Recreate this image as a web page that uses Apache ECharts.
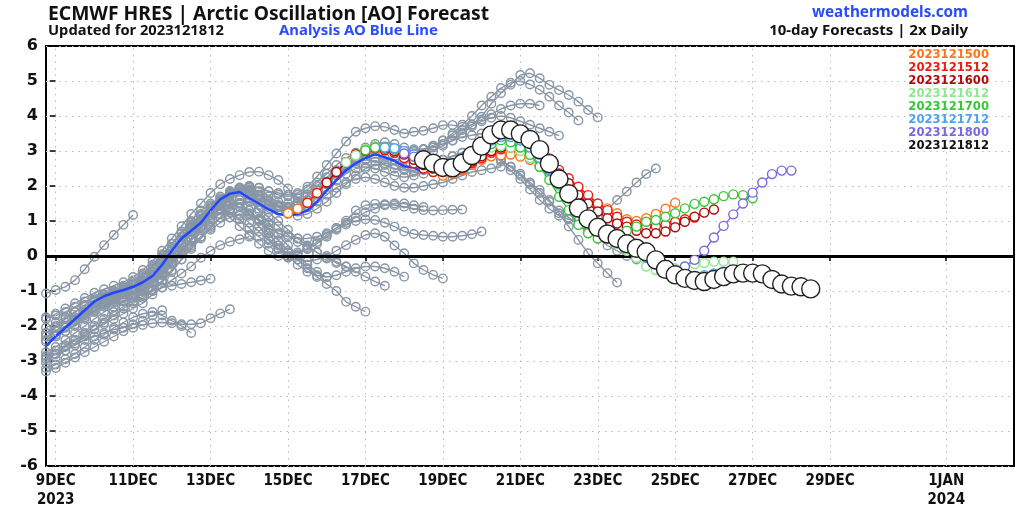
<!DOCTYPE html>
<html><head><meta charset="utf-8">
<script src="https://cdn.jsdelivr.net/npm/echarts@6/dist/echarts.min.js"></script>
<style>html,body{margin:0;padding:0;background:#fff}#c{width:1024px;height:512px}</style>
</head><body><div id="c"></div>
<script>
// x = days since 2023-12-09 00Z ; all runs are 6-hourly (0.25 day steps)
const tickDays = [0, 2, 4, 6, 8, 10, 12, 14, 16, 18, 20, 23];
const tickLabels = ['9DEC\n2023', '11DEC', '13DEC', '15DEC', '17DEC', '19DEC', '21DEC', '23DEC', '25DEC', '27DEC', '29DEC', '1JAN\n2024'];

// Analysis (blue line), starts at day -0.25
const analysisStart = -0.25;
const analysis = [-2.57, -2.3, -2.05, -1.8, -1.55, -1.3, -1.15, -1.05, -0.97, -0.88, -0.75, -0.57, -0.25, 0.15, 0.5, 0.72, 0.95, 1.3, 1.62, 1.78, 1.83, 1.65, 1.5, 1.33, 1.2, 1.16, 1.2, 1.3, 1.55, 1.87, 2.17, 2.45, 2.65, 2.8, 2.91, 2.82, 2.72, 2.56, 2.54, 2.37];

// Older forecast runs (grey); start day of first visible point
const grayStarts = [-0.25, -0.25, -0.25, -0.25, -0.25, -0.25, -0.25, -0.25, -0.25, -0.25, -0.25, -0.25, -0.25, -0.25, -0.25, -0.25, 0, 0.5, 1, 1.5, 2, 2.5, 3, 3.5, 4, 4.5, 5, 5.5];
const g1201_00 = [-1.07, -0.97, -0.88, -0.69, -0.38, -0.02, 0.31, 0.6, 0.89, 1.17];
const g1201_12 = [-1.75, -1.7, -1.6, -1.45, -1.3, -1.2, -1.1, -1.0, -0.95, -0.9, -0.85, -0.75];
const g1202_00 = [-2.9, -2.8, -2.7, -2.55, -2.4, -2.3, -2.2, -2.1, -2.05, -1.95, -1.85, -1.7, -1.55];
const g1202_12 = [-3.2, -3.1, -2.95, -2.8, -2.6, -2.4, -2.25, -2.05, -1.9, -1.75, -1.65, -1.6, -1.7, -1.85, -2.0, -2.2];
const g1203_00 = [-2.45, -2.3, -2.15, -2.0, -1.8, -1.6, -1.45, -1.35, -1.3, -1.2, -1.1, -1.0, -0.9, -0.85, -0.8, -0.75, -0.7, -0.65];
const g1203_12 = [-3.3, -3.2, -3.05, -2.9, -2.75, -2.6, -2.45, -2.3, -2.15, -2.05, -1.97, -1.92, -1.9, -1.92, -1.95, -1.95, -1.92, -1.78, -1.64, -1.52];
const g1204_00 = [-2.85, -2.7, -2.55, -2.4, -2.25, -2.1, -1.95, -1.8, -1.65, -1.5, -1.35, -1.1, -0.9, -0.69, -0.5, -0.3, -0.05, 0.15, 0.31, 0.41, 0.48, 0.55];
const g1204_12 = [-2.2, -2.05, -1.9, -1.75, -1.6, -1.45, -1.35, -1.25, -1.15, -1.05, -0.9, -0.7, -0.45, -0.2, 0.05, 0.3, 0.55, 0.75, 0.95, 1.1, 1.2, 1.15, 1.05, 0.9];
const g1205_00 = [-2.05, -1.9, -1.75, -1.6, -1.45, -1.3, -1.2, -1.1, -1.0, -0.9, -0.75, -0.55, -0.3, 0.0, 0.3, 0.6, 0.9, 1.15, 1.35, 1.5, 1.5, 1.22, 0.84, 0.5, 0.22, -0.02];
const g1205_12 = [-1.8, -1.65, -1.5, -1.35, -1.2, -1.05, -0.95, -0.85, -0.75, -0.6, -0.4, -0.15, 0.15, 0.5, 0.85, 1.2, 1.5, 1.8, 2.05, 2.2, 2.31, 2.4, 2.41, 2.31, 2.17, 1.93, 1.65, 1.4];
const g1206_00 = [-2.3, -2.15, -2.0, -1.85, -1.7, -1.55, -1.4, -1.3, -1.2, -1.1, -0.95, -0.75, -0.5, -0.2, 0.15, 0.5, 0.85, 1.2, 1.5, 1.7, 1.75, 1.6, 1.3, 0.95, 0.6, 0.3, 0.0, -0.25, -0.45, -0.6];
const g1206_12 = [-2.95, -2.8, -2.6, -2.4, -2.2, -2.0, -1.8, -1.6, -1.45, -1.3, -1.15, -0.95, -0.7, -0.4, -0.1, 0.2, 0.5, 0.8, 1.1, 1.35, 1.5, 1.55, 1.45, 1.25, 1.0, 0.75, 0.5, 0.3, 0.1, -0.05, -0.2, -0.3];
const g1207_00 = [-3.05, -2.9, -2.7, -2.5, -2.3, -2.1, -1.9, -1.7, -1.5, -1.35, -1.2, -1.0, -0.75, -0.45, -0.1, 0.25, 0.55, 0.85, 1.1, 1.3, 1.4, 1.3, 1.05, 0.75, 0.45, 0.15, -0.1, -0.35, -0.6, -0.8, -1.0, -1.31, -1.45, -1.59];
const g1207_12 = [-2.75, -2.6, -2.4, -2.2, -2.0, -1.8, -1.6, -1.45, -1.3, -1.15, -1.0, -0.8, -0.55, -0.25, 0.1, 0.45, 0.8, 1.1, 1.35, 1.5, 1.6, 1.55, 1.35, 1.1, 0.85, 0.6, 0.4, 0.25, 0.1, -0.07, -0.16, -0.3, -0.45, -0.59, -0.73, -0.85];
const g1208_00 = [-2.4, -2.25, -2.05, -1.85, -1.65, -1.45, -1.3, -1.15, -1.05, -0.95, -0.8, -0.6, -0.35, 0.0, 0.35, 0.7, 1.0, 1.25, 1.45, 1.55, 1.5, 1.3, 1.0, 0.65, 0.3, 0.0, -0.25, -0.45, -0.55, -0.6, -0.55, -0.45, -0.35, -0.3, -0.3, -0.35, -0.45, -0.59];
const g1208_12 = [-2.2, -2.0, -1.8, -1.6, -1.4, -1.25, -1.1, -1.0, -0.9, -0.75, -0.55, -0.3, 0.0, 0.35, 0.7, 1.0, 1.3, 1.5, 1.6, 1.55, 1.4, 1.2, 1.0, 0.8, 0.65, 0.55, 0.5, 0.5, 0.55, 0.65, 0.8, 0.95, 1.1, 1.25, 1.35, 1.45, 1.5, 1.5, 1.45, 1.4];
const g1209_00 = [-2.3, -2.15, -1.95, -1.75, -1.55, -1.4, -1.25, -1.1, -1.0, -0.85, -0.65, -0.4, -0.1, 0.2, 0.5, 0.8, 1.05, 1.2, 1.25, 1.15, 0.95, 0.7, 0.45, 0.2, 0.0, -0.1, -0.15, -0.1, 0.0, 0.15, 0.31, 0.46, 0.6, 0.65, 0.55, 0.3, 0.08, -0.21, -0.4, -0.54, -0.64];
const g1209_12 = [-1.8, -1.65, -1.5, -1.35, -1.2, -1.05, -0.9, -0.7, -0.45, -0.15, 0.2, 0.55, 0.9, 1.2, 1.35, 1.3, 1.1, 0.85, 0.6, 0.35, 0.15, 0.0, -0.05, 0.05, 0.2, 0.4, 0.6, 0.8, 1.01, 1.3, 1.45, 1.49, 1.48, 1.45, 1.41, 1.35, 1.31, 1.3, 1.31, 1.32, 1.33];
const g1210_00 = [-1.3, -1.15, -1.0, -0.85, -0.7, -0.5, -0.25, 0.05, 0.35, 0.65, 0.95, 1.15, 1.3, 1.35, 1.25, 1.05, 0.8, 0.55, 0.35, 0.2, 0.1, 0.1, 0.2, 0.35, 0.55, 0.75, 0.9, 1.0, 1.05, 1.03, 0.95, 0.84, 0.7, 0.63, 0.6, 0.58, 0.55, 0.55, 0.58, 0.62, 0.7];
const g1210_12 = [-1.05, -0.95, -0.8, -0.6, -0.35, -0.05, 0.25, 0.55, 0.85, 1.15, 1.4, 1.65, 1.85, 1.95, 1.9, 1.75, 1.55, 1.4, 1.3, 1.3, 1.4, 1.55, 1.75, 1.95, 2.1, 2.2, 2.25, 2.2, 2.1, 2.0, 1.95, 1.95, 2.0, 2.05, 2.1, 2.2, 2.3, 2.4, 2.45, 2.5, 2.55];
const g1211_00 = [-0.88, -0.75, -0.55, -0.3, 0.0, 0.35, 0.7, 1.05, 1.35, 1.6, 1.8, 1.95, 2.0, 1.95, 1.85, 1.75, 1.7, 1.75, 1.9, 2.1, 2.35, 2.6, 2.8, 2.95, 3.1, 3.2, 3.25, 3.2, 3.1, 3.05, 3.05, 3.1, 3.2, 3.3, 3.4, 3.45, 3.5, 3.45, 3.4, 3.35, 3.3];
const g1211_12 = [-0.57, -0.4, -0.15, 0.15, 0.5, 0.85, 1.2, 1.5, 1.75, 1.9, 1.95, 1.85, 1.7, 1.55, 1.5, 1.55, 1.7, 1.9, 2.1, 2.35, 2.55, 2.75, 2.9, 3.0, 3.05, 3.05, 3.0, 3.0, 3.05, 3.15, 3.3, 3.45, 3.6, 3.75, 3.9, 4.05, 4.2, 4.3, 4.35, 4.35, 4.3];
const g1212_00 = [0.15, 0.45, 0.8, 1.15, 1.45, 1.7, 1.85, 1.9, 1.85, 1.7, 1.55, 1.45, 1.4, 1.45, 1.6, 1.8, 2.05, 2.3, 2.5, 2.65, 2.75, 2.8, 2.8, 2.75, 2.75, 2.8, 2.9, 3.0, 3.15, 3.3, 3.5, 3.7, 3.85, 3.95, 4.0, 3.95, 3.85, 3.75, 3.65, 3.55, 3.44];
const g1212_12 = [0.72, 1.0, 1.3, 1.55, 1.75, 1.85, 1.85, 1.75, 1.6, 1.45, 1.4, 1.45, 1.6, 1.8, 2.05, 2.3, 2.55, 2.75, 2.9, 3.0, 3.05, 3.05, 3.0, 3.0, 3.05, 3.15, 3.3, 3.5, 3.75, 4.0, 4.3, 4.55, 4.8, 4.95, 5.0, 4.9, 4.75, 4.55, 4.3, 4.1, 3.87];
const g1213_00 = [1.3, 1.55, 1.8, 1.95, 2.0, 1.95, 1.85, 1.8, 1.75, 1.8, 1.98, 2.27, 2.6, 2.93, 3.27, 3.55, 3.65, 3.71, 3.69, 3.6, 3.5, 3.55, 3.58, 3.65, 3.74, 3.74, 3.69, 3.75, 3.98, 4.35, 4.65, 4.89, 5.17, 5.22, 5.08, 4.89, 4.74, 4.6, 4.41, 4.17, 3.96];
const g1213_12 = [1.78, 1.85, 1.8, 1.65, 1.45, 1.3, 1.2, 1.15, 1.2, 1.35, 1.55, 1.8, 2.05, 2.3, 2.5, 2.6, 2.65, 2.6, 2.5, 2.4, 2.35, 2.4, 2.5, 2.65, 2.8, 2.9, 2.95, 2.9, 2.75, 2.55, 2.35, 2.1, 1.89, 1.6, 1.22, 0.84, 0.46, 0.08, -0.21, -0.49, -0.76];
const g1214_00 = [1.65, 1.6, 1.5, 1.4, 1.35, 1.35, 1.45, 1.65, 1.9, 2.15, 2.35, 2.5, 2.55, 2.5, 2.4, 2.3, 2.25, 2.3, 2.45, 2.6, 2.75, 2.85, 2.95, 3.0, 3.0, 2.9, 2.75, 2.55, 2.3, 2.05, 1.8, 1.55, 1.3, 1.1, 0.9, 0.7, 0.5, 0.3, 0.15, 0.0, -0.1];
const g1214_12 = [1.33, 1.3, 1.35, 1.5, 1.75, 2.0, 2.25, 2.45, 2.6, 2.7, 2.75, 2.7, 2.6, 2.5, 2.45, 2.45, 2.5, 2.6, 2.75, 2.85, 2.95, 3.0, 3.0, 2.9, 2.7, 2.45, 2.2, 1.9, 1.6, 1.35, 1.15, 1.05, 1.0, 1.0, 1.1, 1.33, 1.6, 1.84, 2.1, 2.34, 2.5];
const grayRuns = [g1201_00, g1201_12, g1202_00, g1202_12, g1203_00, g1203_12, g1204_00, g1204_12, g1205_00, g1205_12, g1206_00, g1206_12, g1207_00, g1207_12, g1208_00, g1208_12, g1209_00, g1209_12, g1210_00, g1210_12, g1211_00, g1211_12, g1212_00, g1212_12, g1213_00, g1213_12, g1214_00, g1214_12];

// Recent runs (coloured), oldest first
const runNames = ['2023121500', '2023121512', '2023121600', '2023121612', '2023121700', '2023121712', '2023121800', '2023121812'];
const runColors = ['#ff7417', '#ec1a10', '#b10a0a', '#8fe88f', '#37c637', '#4aa3f3', '#7a68e2', '#111111'];
const runStarts = [6.0, 6.5, 7.0, 7.5, 8.0, 8.5, 9.0, 9.5];
const r1500 = [1.22, 1.35, 1.52, 1.8, 2.1, 2.4, 2.68, 2.88, 3.0, 3.07, 3.02, 2.95, 2.85, 2.7, 2.55, 2.4, 2.3, 2.35, 2.45, 2.6, 2.75, 2.85, 2.88, 2.9, 2.84, 2.75, 2.6, 2.4, 2.2, 2.0, 1.8, 1.6, 1.45, 1.36, 1.22, 1.05, 1.0, 1.08, 1.2, 1.35, 1.52];
const r1512 = [1.52, 1.8, 2.1, 2.4, 2.68, 2.9, 3.0, 3.08, 3.02, 2.95, 2.8, 2.65, 2.5, 2.4, 2.4, 2.45, 2.5, 2.65, 2.8, 2.95, 3.05, 3.1, 3.05, 2.95, 2.95, 2.79, 2.46, 2.22, 1.98, 1.74, 1.5, 1.31, 1.12, 0.98, 0.9, 0.85, 0.85, 0.9, 0.98, 1.05, 1.1];
const r1600 = [2.1, 2.4, 2.68, 2.9, 3.02, 3.12, 3.07, 3.0, 2.9, 2.75, 2.6, 2.5, 2.45, 2.5, 2.55, 2.7, 2.85, 3.0, 3.1, 3.15, 3.1, 3.0, 2.95, 2.74, 2.36, 2.08, 1.74, 1.5, 1.27, 1.08, 0.93, 0.84, 0.72, 0.65, 0.65, 0.7, 0.82, 0.98, 1.12, 1.24, 1.33];
const r1612 = [2.68, 2.88, 3.05, 3.12, 3.1, 3.05, 2.95, 2.85, 2.7, 2.6, 2.55, 2.6, 2.7, 2.85, 3.0, 3.1, 3.15, 3.1, 3.0, 2.8, 2.55, 2.3, 2.0, 1.65, 1.35, 1.05, 0.8, 0.55, 0.35, 0.15, -0.05, -0.3, -0.4, -0.4, -0.35, -0.3, -0.23, -0.2, -0.16, -0.16, -0.16];
const r1700 = [3.02, 3.1, 3.1, 3.05, 2.95, 2.85, 2.75, 2.65, 2.6, 2.65, 2.75, 2.9, 3.05, 3.2, 3.31, 3.25, 3.1, 2.89, 2.55, 2.17, 1.69, 1.31, 0.89, 0.65, 0.5, 0.5, 0.6, 0.72, 0.84, 0.98, 1.03, 1.12, 1.22, 1.36, 1.49, 1.55, 1.62, 1.71, 1.76, 1.74, 1.65];
const r1712 = [3.1, 3.08, 3.0, 2.9, 2.78, 2.68, 2.6, 2.62, 2.72, 2.9, 3.1, 3.3, 3.4, 3.4, 3.3, 3.1, 2.8, 2.45, 2.05, 1.65, 1.3, 1.0, 0.75, 0.55, 0.4, 0.25, 0.1, -0.05, -0.25, -0.42, -0.55, -0.6, -0.6, -0.55, -0.5, -0.45, -0.42, -0.42, -0.45, -0.5, -0.55];
const r1800 = [2.93, 2.84, 2.7, 2.6, 2.55, 2.58, 2.7, 2.92, 3.2, 3.45, 3.55, 3.52, 3.4, 3.2, 2.9, 2.5, 2.1, 1.7, 1.35, 1.05, 0.8, 0.6, 0.45, 0.3, 0.15, 0.0, -0.2, -0.35, -0.4, -0.3, -0.11, 0.15, 0.53, 0.86, 1.19, 1.5, 1.81, 2.1, 2.34, 2.44, 2.44];
const r1812 = [2.75, 2.65, 2.53, 2.52, 2.65, 2.87, 3.14, 3.46, 3.6, 3.6, 3.49, 3.33, 3.04, 2.64, 2.2, 1.78, 1.37, 1.06, 0.82, 0.63, 0.5, 0.35, 0.22, 0.12, -0.11, -0.38, -0.54, -0.64, -0.7, -0.73, -0.67, -0.59, -0.51, -0.49, -0.49, -0.51, -0.67, -0.8, -0.86, -0.88, -0.94];
const recentRuns = [r1500, r1512, r1600, r1612, r1700, r1712, r1800, r1812];

const GRAY = '#8896a6';
const toPts = (start, vals) => vals.map((v, i) => [start + 0.25 * i, v]);

const series = [];
grayRuns.forEach((vals, k) => {
  series.push({
    type: 'line', data: toPts(grayStarts[k], vals), symbol: 'circle', symbolSize: 8.5,
    showAllSymbol: true, silent: true, animation: false,
    lineStyle: { color: GRAY, width: 1.4 },
    itemStyle: { color: 'rgba(255,255,255,0)', borderColor: GRAY, borderWidth: 1.4 },
    z: 2
  });
});
series.push({
  type: 'line', data: toPts(analysisStart, analysis), symbol: 'none',
  silent: true, animation: false, lineStyle: { color: '#2146ff', width: 2.5 }, z: 3,
  markLine: {
    silent: true, symbol: 'none', animation: false, label: { show: false },
    lineStyle: { color: '#b8b8b8', type: [1.5, 5], width: 1 },
    data: tickDays.map(d => ({ xAxis: d }))
  }
});
recentRuns.forEach((vals, k) => {
  const last = k === recentRuns.length - 1;
  series.push({
    type: 'line', data: toPts(runStarts[k], vals), symbol: 'circle',
    symbolSize: last ? 18 : 9, showAllSymbol: true, silent: true, animation: false,
    lineStyle: { color: runColors[k], width: last ? 1.5 : 1.4 },
    itemStyle: { color: '#ffffff', borderColor: last ? '#222' : runColors[k], borderWidth: 1.4 },
    z: 4 + k
  });
});
// zero line
series.push({
  type: 'line', data: [], silent: true, animation: false, z: 3,
  markLine: { silent: true, symbol: 'none', animation: false, label: { show: false },
    lineStyle: { color: '#000', type: 'solid', width: 3 }, data: [{ yAxis: 0 }] }
});

const titles = [
  { text: 'ECMWF HRES | Arctic Oscillation [AO] Forecast', left: 48, top: 5, padding: 0, textStyle: { fontFamily: 'Noto Sans', fontWeight: 'bold', fontSize: 19.3, color: '#111' } },
  { text: 'Updated for 2023121812', left: 48, top: 23, padding: 0, textStyle: { fontFamily: 'Noto Sans', fontWeight: 'bold', fontSize: 14.7, color: '#111' } },
  { text: 'Analysis AO Blue Line', left: 279, top: 23, padding: 0, textStyle: { fontFamily: 'Noto Sans', fontWeight: 'bold', fontSize: 14.9, color: '#2a4cff' } },
  { text: 'weathermodels.com', right: 56, top: 5, padding: 0, textStyle: { fontFamily: 'Noto Sans', fontWeight: 'bold', fontSize: 15.3, color: '#2a4cff' } },
  { text: '10-day Forecasts | 2x Daily', right: 56, top: 23, padding: 0, textStyle: { fontFamily: 'Noto Sans', fontWeight: 'bold', fontSize: 15, color: '#111' } }
];
runNames.forEach((n, k) => {
  titles.push({ text: n, right: 35, top: 49 + k * 13, padding: 0, textStyle: { fontFamily: 'DejaVu Sans', fontWeight: 'bold', fontSize: 11.6, color: runColors[k] } });
});

const chart = echarts.init(document.getElementById('c'), null, { renderer: 'canvas' });
chart.setOption({
  animation: false,
  backgroundColor: '#fff',
  title: titles,
  grid: { left: 46, right: 10, top: 46, bottom: 46, show: true, borderColor: '#000', borderWidth: 2, backgroundColor: 'transparent' },
  xAxis: {
    type: 'value', min: -0.25, max: 24.75,
    axisLine: { show: false },
    splitLine: { show: false },
    axisTick: { show: true, customValues: tickDays, length: 5, lineStyle: { color: '#000', width: 1.5 } },
    axisLabel: {
      customValues: tickDays, margin: 6, color: '#111', fontFamily: 'DejaVu Sans Condensed, Liberation Sans Narrow, DejaVu Sans', fontWeight: 'bold', fontSize: 15, lineHeight: 19,
      formatter: v => { const i = tickDays.indexOf(Math.round(v * 100) / 100); return i >= 0 ? tickLabels[i] : ''; }
    }
  },
  yAxis: {
    type: 'value', min: -6, max: 6, interval: 1,
    axisLine: { show: false },
    axisTick: { show: true, length: 6, lineStyle: { color: '#000', width: 1.5 } },
    splitLine: { show: true, lineStyle: { color: '#b8b8b8', type: [1.5, 5], width: 1 } },
    axisLabel: { color: '#111', fontFamily: 'DejaVu Sans', fontWeight: 'bold', fontSize: 16, margin: 8 }
  },
  series: series
});
</script>
</body></html>
